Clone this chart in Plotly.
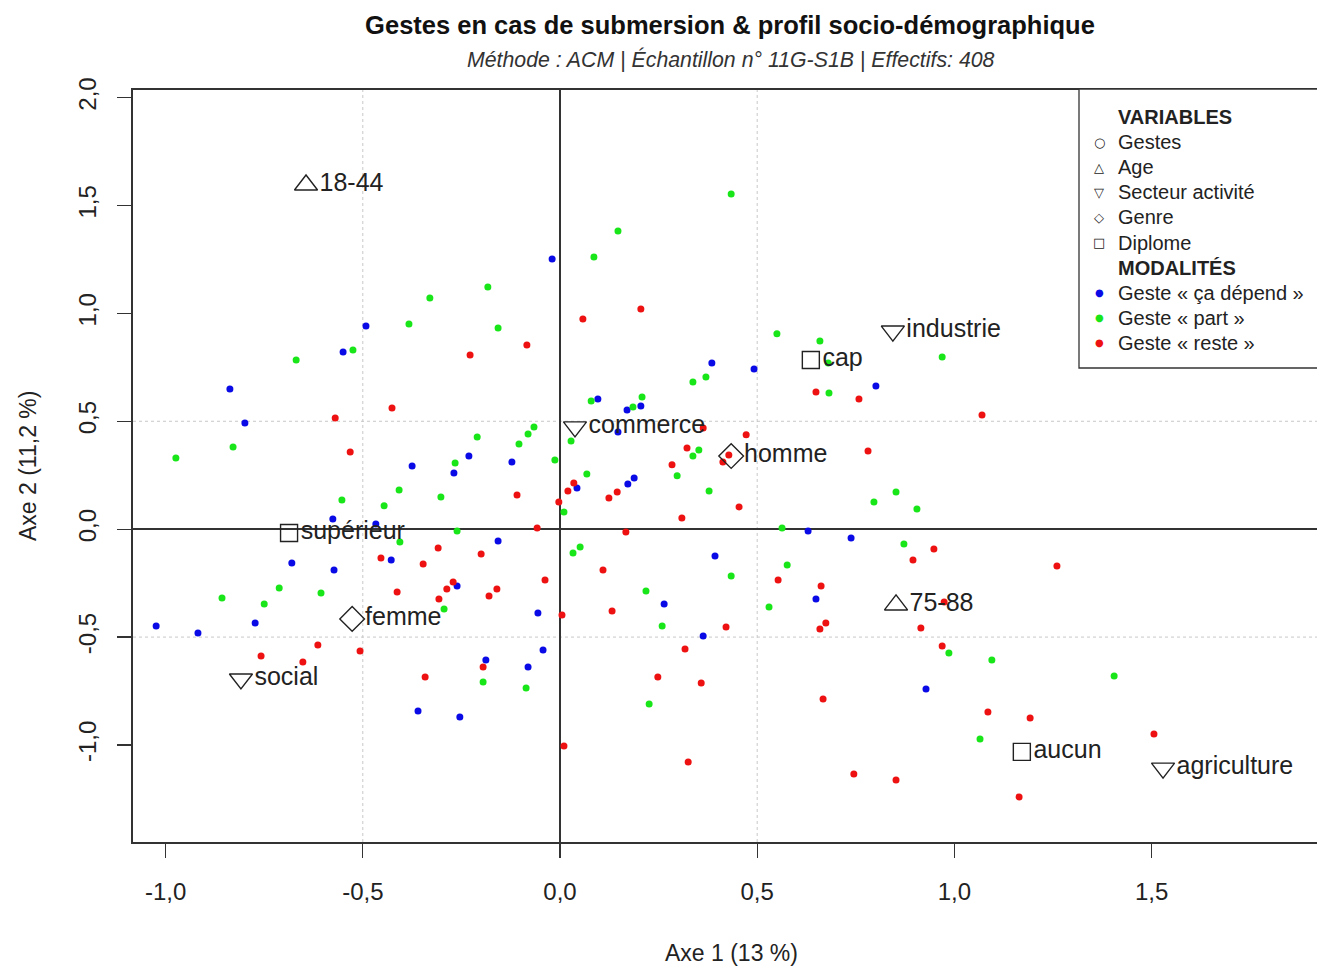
import plotly.graph_objects as go

# ---------------- data ----------------
blue_x = [-0.837, -0.799, -0.550, -0.492, -0.020, -0.375, -0.576, -0.467, -0.680, -0.573,
          -1.024, -0.918, -0.773, -0.428, -0.360, -0.231, -0.269, -0.122, 0.096, 0.170,
          0.205, 0.147, 0.188, 0.172, 0.043, -0.157, -0.261, -0.056, -0.043, -0.188,
          -0.081, -0.254, 0.393, 0.264, 0.363, 0.385, 0.492, 0.801, 0.629, 0.738,
          0.649, 0.928]
blue_y = [0.650, 0.492, 0.821, 0.942, 1.252, 0.293, 0.047, 0.024, -0.157, -0.189,
          -0.449, -0.481, -0.435, -0.143, -0.842, 0.339, 0.260, 0.311, 0.603, 0.552,
          0.571, 0.450, 0.237, 0.209, 0.191, -0.055, -0.263, -0.388, -0.560, -0.606,
          -0.639, -0.870, -0.124, -0.347, -0.495, 0.770, 0.742, 0.664, -0.008, -0.041,
          -0.323, -0.741]

green_x = [-0.974, -0.829, -0.669, -0.525, -0.383, -0.330, -0.408, -0.553, -0.446, -0.712,
           -0.606, -0.857, -0.750, -0.406, 0.147, 0.086, -0.183, -0.157, 0.337, 0.370,
           0.079, 0.185, 0.208, 0.028, -0.210, -0.066, -0.081, -0.104, -0.266, -0.013,
           0.352, 0.337, 0.297, 0.068, -0.302, 0.010, 0.378, -0.261, 0.033, 0.051,
           0.218, 0.259, -0.294, -0.195, -0.086, 0.226, 0.434, 0.550, 0.659, 0.680,
           0.969, 0.682, 0.852, 0.796, 0.905, 0.563, 0.872, 0.576, 0.434, 0.530,
           0.986, 1.095, 1.065, 1.405]
green_y = [0.330, 0.381, 0.784, 0.830, 0.951, 1.071, 0.182, 0.135, 0.108, -0.272,
           -0.296, -0.319, -0.347, -0.059, 1.382, 1.261, 1.122, 0.932, 0.682, 0.705,
           0.594, 0.566, 0.613, 0.409, 0.427, 0.474, 0.441, 0.395, 0.307, 0.321,
           0.367, 0.339, 0.247, 0.256, 0.149, 0.080, 0.177, -0.008, -0.110, -0.082,
           -0.286, -0.449, -0.370, -0.708, -0.736, -0.810, 1.553, 0.905, 0.872, 0.770,
           0.798, 0.631, 0.172, 0.126, 0.094, 0.006, -0.069, -0.166, -0.217, -0.361,
           -0.574, -0.606, -0.972, -0.680]

red_x = [-0.570, -0.426, -0.532, -0.454, -0.347, -0.413, -0.614, -0.758, -0.652, -0.507,
         -0.342, -0.228, -0.084, 0.058, 0.205, 0.363, 0.322, 0.284, 0.035, 0.020,
         0.145, 0.124, -0.109, -0.003, 0.309, -0.058, 0.167, -0.309, -0.200, 0.109,
         -0.038, -0.271, -0.287, -0.160, -0.180, -0.307, 0.005, 0.132, 0.317, 0.248,
         0.358, -0.195, 0.010, 0.325, 0.649, 0.758, 1.070, 0.472, 0.428, 0.413,
         0.781, 0.454, 0.948, 0.895, 0.553, 0.662, 0.421, 0.659, 0.674, 0.974,
         0.915, 0.969, 0.667, 1.085, 1.192, 0.745, 0.852, 1.164, 1.260, 1.506]
red_y = [0.515, 0.562, 0.358, -0.133, -0.161, -0.291, -0.537, -0.588, -0.615, -0.564,
         -0.685, 0.807, 0.854, 0.974, 1.020, 0.469, 0.376, 0.298, 0.214, 0.177,
         0.172, 0.145, 0.158, 0.126, 0.052, 0.006, -0.013, -0.087, -0.115, -0.189,
         -0.235, -0.245, -0.277, -0.277, -0.310, -0.323, -0.398, -0.379, -0.555, -0.685,
         -0.713, -0.639, -1.005, -1.079, 0.636, 0.603, 0.529, 0.437, 0.344, 0.311,
         0.362, 0.103, -0.092, -0.143, -0.235, -0.263, -0.453, -0.462, -0.435, -0.337,
         -0.458, -0.541, -0.787, -0.847, -0.875, -1.134, -1.162, -1.241, -0.171, -0.949]

age_labels = ["18-44", "75-88"]
age_x = [-0.644, 0.852]
age_y = [1.595, -0.351]

secteur_labels = ["industrie", "commerce", "social", "agriculture"]
secteur_x = [0.844, 0.038, -0.809, 1.529]
secteur_y = [0.918, 0.474, -0.694, -1.107]

genre_labels = ["homme", "femme"]
genre_x = [0.434, -0.527]
genre_y = [0.339, -0.416]

diplome_labels = ["supérieur", "cap", "aucun"]
diplome_x = [-0.687, 0.636, 1.171]
diplome_y = [-0.018, 0.784, -1.032]

x_ticks = [-1.0, -0.5, 0.0, 0.5, 1.0, 1.5]
x_tick_labels = ["-1,0", "-0,5", "0,0", "0,5", "1,0", "1,5"]
y_ticks = [-1.0, -0.5, 0.0, 0.5, 1.0, 1.5, 2.0]
y_tick_labels = ["-1,0", "-0,5", "0,0", "0,5", "1,0", "1,5", "2,0"]
grid_lines = [-0.5, 0.5]

# legend rows: (glyph, glyph colour, label, bold)
legend_glyphs = ["", "○", "△", "▽", "◇", "□", "", "●", "●", "●"]
legend_glyph_colors = ["#222222"] * 7 + ["#0a0ae6", "#19e619", "#ee1111"]
legend_labels = ["VARIABLES", "Gestes", "Age", "Secteur activité", "Genre", "Diplome",
                 "MODALITÉS", "Geste « ça dépend »", "Geste « part »", "Geste « reste »"]
legend_bold = [True, False, False, False, False, False, True, False, False, False]

FONT = "Liberation Sans, Arial, Helvetica, sans-serif"
INK = "#222222"
BLUE, GREEN, RED = "#0a0ae6", "#19e619", "#ee1111"

# geometry helpers (pixels -> paper) for the page layout
W, H = 1317, 967
ML, MR, MT, MB = 133, 0, 90, 125
PW, PH = W - ML - MR, H - MT - MB


def px(xp):
    return (xp - ML) / PW


def py(yp):
    return (H - MB - yp) / PH


fig = go.Figure()

# individuals
for xs, ys, col, nm in [
    (blue_x, blue_y, BLUE, "Geste « ça dépend »"),
    (green_x, green_y, GREEN, "Geste « part »"),
    (red_x, red_y, RED, "Geste « reste »"),
]:
    fig.add_trace(go.Scatter(x=xs, y=ys, mode="markers", name=nm,
                             marker=dict(color=col, size=7, line=dict(width=0)),
                             hoverinfo="skip"))

# supplementary categories
for xs, ys, labs, sym, sz, nm in [
    (age_x, age_y, age_labels, "triangle-up-open", 20, "Age"),
    (secteur_x, secteur_y, secteur_labels, "triangle-down-open", 20, "Secteur activité"),
    (genre_x, genre_y, genre_labels, "diamond-open", 19, "Genre"),
    (diplome_x, diplome_y, diplome_labels, "square-open", 17, "Diplome"),
]:
    fig.add_trace(go.Scatter(x=xs, y=ys, mode="markers+text", text=labs,
                             textposition="middle right",
                             textfont=dict(family=FONT, size=25, color=INK),
                             name=nm,
                             marker=dict(symbol=sym, size=sz, color=INK,
                                         line=dict(width=1.4, color=INK)),
                             hoverinfo="skip"))

shapes = []
for g in grid_lines:
    shapes.append(dict(type="line", xref="x", yref="paper", x0=g, x1=g, y0=0, y1=1,
                       line=dict(color="#c8c8c8", width=1, dash="dot"), layer="below"))
    shapes.append(dict(type="line", xref="paper", yref="y", x0=0, x1=1, y0=g, y1=g,
                       line=dict(color="#c8c8c8", width=1, dash="dot"), layer="below"))

# legend box (extends past the right edge like the reference)
shapes.append(dict(type="rect", xref="paper", yref="paper",
                   x0=px(1079), x1=px(1340), y0=py(368), y1=py(89),
                   line=dict(color="#333333", width=1.3), fillcolor="white", layer="above"))

annotations = [
    dict(text="<i>Méthode : ACM | Échantillon n° 11G-S1B | Effectifs: 408</i>",
         xref="paper", yref="paper", x=px(731), y=py(60),
         xanchor="center", yanchor="middle", showarrow=False,
         font=dict(family=FONT, size=21.3, color="#333333")),
    dict(text="Axe 1 (13 %)", xref="paper", yref="paper", x=px(731), y=py(953),
         xanchor="center", yanchor="middle", showarrow=False,
         font=dict(family=FONT, size=23, color=INK)),
    dict(text="Axe 2 (11,2 %)", xref="paper", yref="paper", x=px(28), y=py(466),
         textangle=-90, xanchor="center", yanchor="middle", showarrow=False,
         font=dict(family=FONT, size=23, color=INK)),
]

row_y0, row_step = 117, 25.1
for i, (g, gc, lab, b) in enumerate(zip(legend_glyphs, legend_glyph_colors,
                                        legend_labels, legend_bold)):
    yy = py(row_y0 + i * row_step)
    if g:
        annotations.append(dict(text=g, xref="paper", yref="paper", x=px(1099), y=yy,
                                xanchor="center", yanchor="middle", showarrow=False,
                                font=dict(family="DejaVu Sans", size=13 if g != "●" else 10,
                                          color=gc)))
    annotations.append(dict(text=f"<b>{lab}</b>" if b else lab, xref="paper", yref="paper",
                            x=px(1116), y=yy, xanchor="left", yanchor="middle",
                            showarrow=False,
                            font=dict(family=FONT, size=20, color=INK)))

fig.update_layout(
    template="none",
    width=W, height=H, autosize=False,
    margin=dict(l=ML, r=MR, t=MT, b=MB),
    paper_bgcolor="white", plot_bgcolor="white",
    font=dict(family=FONT, color=INK),
    title=dict(text="<b>Gestes en cas de submersion & profil socio-démographique</b>",
               x=px(730), xref="paper", xanchor="center", y=1 - 25 / H, yref="container",
               yanchor="middle", font=dict(size=25.5, color="#111111", family=FONT)),
    showlegend=False,
    shapes=shapes,
    annotations=annotations,
    xaxis=dict(range=[-1.0827, 1.9194], tickmode="array", tickvals=x_ticks,
               ticktext=x_tick_labels, ticks="outside", ticklen=14, tickwidth=1.3,
               tickcolor="#333333", showgrid=False, zeroline=True,
               zerolinecolor="#333333", zerolinewidth=1.5, showline=True,
               linecolor="#333333", linewidth=1.8, mirror=True,
               tickfont=dict(family=FONT, size=24, color=INK),
               ticklabelstandoff=13),
    yaxis=dict(range=[-1.4495, 2.035], tickmode="array", tickvals=y_ticks,
               ticktext=y_tick_labels, ticks="outside", ticklen=14, tickwidth=1.3,
               tickcolor="#333333", showgrid=False, zeroline=True,
               zerolinecolor="#333333", zerolinewidth=1.5, showline=True,
               linecolor="#333333", linewidth=1.8, mirror=False, tickangle=-90,
               tickfont=dict(family=FONT, size=24, color=INK),
               ticklabelstandoff=12),
)

fig.write_html("out.html", include_plotlyjs=True,
               config={"displayModeBar": False, "staticPlot": True},
               post_script="document.body.style.margin='0';document.body.style.overflow='hidden';")
